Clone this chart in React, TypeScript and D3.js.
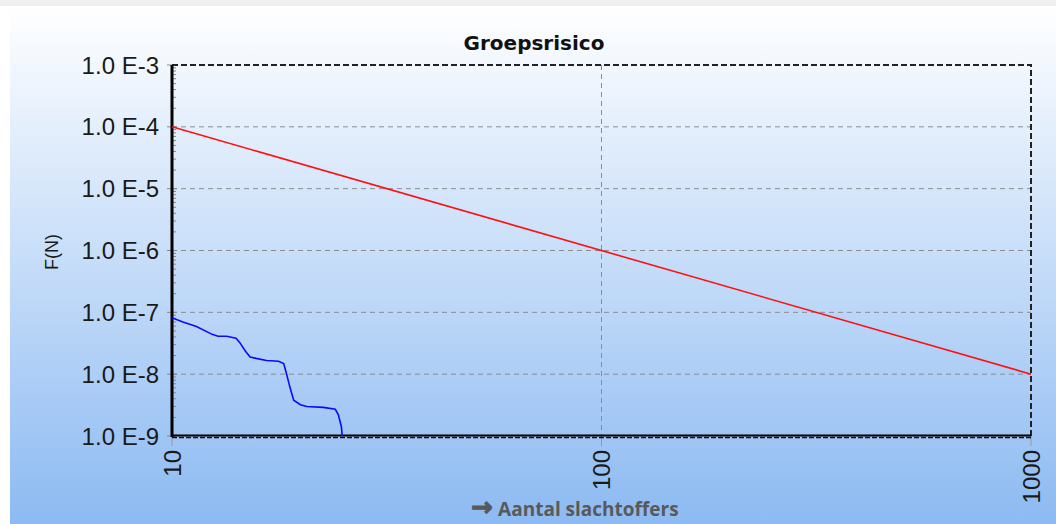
import { useEffect, useRef } from "react";
import * as d3 from "d3";

const xTicks = [10, 100, 1000];
const yTicks = [1e-3, 1e-4, 1e-5, 1e-6, 1e-7, 1e-8, 1e-9];
const yTickLabels = ["1.0 E-3", "1.0 E-4", "1.0 E-5", "1.0 E-6", "1.0 E-7", "1.0 E-8", "1.0 E-9"];

// oriëntatiewaarde (rood)
const normN = [10, 1000];
const normF = [1e-4, 1e-8];

// berekend groepsrisico (blauw)
const frN = [10, 10.6, 11.4, 12.4, 12.8, 13.4, 14.1, 14.4, 14.8, 15.2, 15.7, 16.6, 17.7, 18.2, 18.5, 18.8, 19.2, 19.9, 20.6, 22.5, 24.0, 24.4, 24.8, 24.9];
const frF = [8.2e-8, 7.0e-8, 5.9e-8, 4.4e-8, 4.1e-8, 4.1e-8, 3.8e-8, 3.2e-8, 2.4e-8, 1.9e-8, 1.8e-8, 1.66e-8, 1.62e-8, 1.48e-8, 9.8e-9, 6.3e-9, 3.8e-9, 3.2e-9, 3.0e-9, 2.9e-9, 2.7e-9, 2.2e-9, 1.4e-9, 1.0e-9];

function App() {
  const ref = useRef<HTMLDivElement>(null);
  const width = 1056;
  const height = 524;
  const left = 172;
  const right = 1031;
  const top = 65;
  const bottom = 436;

  useEffect(() => {
    d3.select(ref.current).selectAll("*").remove();
    const svg = d3
      .select(ref.current)
      .append("svg")
      .attr("width", width)
      .attr("height", height)
      .style("position", "absolute")
      .style("left", "0px")
      .style("top", "0px");

    const grad = svg
      .append("defs")
      .append("linearGradient")
      .attr("id", "bg")
      .attr("x1", 0)
      .attr("y1", 0)
      .attr("x2", 0)
      .attr("y2", 1);
    grad.append("stop").attr("offset", "0%").attr("stop-color", "#ffffff");
    grad.append("stop").attr("offset", "100%").attr("stop-color", "#8cbaf2");

    svg.append("rect").attr("width", width).attr("height", height).attr("fill", "#ffffff");
    svg.append("rect").attr("width", width).attr("height", 6).attr("fill", "#f0f0f0");
    svg
      .append("rect")
      .attr("x", 10)
      .attr("y", 6)
      .attr("width", width - 10)
      .attr("height", height - 6)
      .attr("fill", "url(#bg)");

    const x = d3.scaleLog().domain([10, 1000]).range([left, right]);
    const y = d3.scaleLog().domain([1e-9, 1e-3]).range([bottom, top]);

    // grid
    svg
      .selectAll(".hgrid")
      .data(yTicks.slice(1, -1))
      .enter()
      .append("line")
      .attr("x1", left)
      .attr("x2", right)
      .attr("y1", (d) => y(d))
      .attr("y2", (d) => y(d))
      .attr("stroke", "#8c8c8c")
      .attr("stroke-dasharray", "5,4");
    svg
      .append("line")
      .attr("x1", x(100))
      .attr("x2", x(100))
      .attr("y1", top)
      .attr("y2", bottom)
      .attr("stroke", "#8c8c8c")
      .attr("stroke-dasharray", "5,4");

    // minor ticks y
    const minors: number[] = [];
    for (let e = -9; e < -3; e++) {
      for (let m = 2; m <= 9; m++) minors.push(m * Math.pow(10, e));
    }
    svg
      .selectAll(".minor")
      .data(minors)
      .enter()
      .append("line")
      .attr("x1", left)
      .attr("x2", left + 4)
      .attr("y1", (d) => y(d))
      .attr("y2", (d) => y(d))
      .attr("stroke", "#888");

    // major ticks y
    svg
      .selectAll(".ytick")
      .data(yTicks)
      .enter()
      .append("line")
      .attr("x1", left - 5)
      .attr("x2", left + 5)
      .attr("y1", (d) => y(d))
      .attr("y2", (d) => y(d))
      .attr("stroke", "#888");

    // ticks x
    svg
      .selectAll(".xtick")
      .data(xTicks)
      .enter()
      .append("line")
      .attr("x1", (d) => x(d))
      .attr("x2", (d) => x(d))
      .attr("y1", bottom)
      .attr("y2", bottom + 10)
      .attr("stroke", "#999");

    // frame
    svg
      .append("path")
      .attr("d", `M${left},${top}H${right}V${bottom}`)
      .attr("fill", "none")
      .attr("stroke", "#222")
      .attr("stroke-width", 2)
      .attr("stroke-dasharray", "6,3");
    svg
      .append("line")
      .attr("x1", left)
      .attr("x2", right)
      .attr("y1", bottom - 0.5)
      .attr("y2", bottom - 0.5)
      .attr("stroke", "#000")
      .attr("stroke-width", 2);
    svg
      .append("line")
      .attr("x1", left)
      .attr("x2", right)
      .attr("y1", bottom + 1.5)
      .attr("y2", bottom + 1.5)
      .attr("stroke", "#111")
      .attr("stroke-width", 1.5)
      .attr("stroke-dasharray", "5,2");
    svg
      .append("line")
      .attr("x1", left)
      .attr("x2", left)
      .attr("y1", top)
      .attr("y2", bottom + 1)
      .attr("stroke", "#000")
      .attr("stroke-width", 3);

    const pathGen = d3
      .line<[number, number]>()
      .x((d) => x(d[0]))
      .y((d) => y(d[1]));

    // lijnen
    svg
      .append("path")
      .datum(normN.map((n, i) => [n, normF[i]] as [number, number]))
      .attr("d", pathGen)
      .attr("fill", "none")
      .attr("stroke", "#ff1010")
      .attr("stroke-width", 1.6);
    svg
      .append("path")
      .datum(frN.map((n, i) => [n, frF[i]] as [number, number]))
      .attr("d", pathGen)
      .attr("fill", "none")
      .attr("stroke", "#0a0aff")
      .attr("stroke-width", 1.6);

    // labels
    svg
      .selectAll(".ylab")
      .data(yTicks)
      .enter()
      .append("text")
      .attr("x", left - 13)
      .attr("y", (d) => y(d))
      .attr("dy", "0.36em")
      .attr("text-anchor", "end")
      .attr("font-family", "Liberation Sans, Arial, sans-serif")
      .attr("font-size", 24)
      .attr("fill", "#1a1a1a")
      .text((_, i) => yTickLabels[i]);

    svg
      .selectAll(".xlab")
      .data(xTicks)
      .enter()
      .append("text")
      .attr("transform", (d) => `translate(${x(d)},${bottom + 14}) rotate(-90)`)
      .attr("dy", "0.36em")
      .attr("text-anchor", "end")
      .attr("font-family", "Liberation Sans, Arial, sans-serif")
      .attr("font-size", 24)
      .attr("fill", "#1a1a1a")
      .text((d) => String(d));

    svg
      .append("text")
      .attr("transform", `translate(58,252) rotate(-90)`)
      .attr("text-anchor", "middle")
      .attr("font-family", "Liberation Sans, Arial, sans-serif")
      .attr("font-size", 18)
      .attr("fill", "#1a1a1a")
      .text("F(N)");

    svg
      .append("text")
      .attr("x", 534)
      .attr("y", 50)
      .attr("text-anchor", "middle")
      .attr("font-family", "DejaVu Sans, sans-serif")
      .attr("font-weight", "bold")
      .attr("font-size", 20)
      .attr("fill", "#111")
      .text("Groepsrisico");

    const xt = svg
      .append("text")
      .attr("x", 575)
      .attr("y", 516)
      .attr("text-anchor", "middle")
      .attr("font-family", "Open Sans, sans-serif")
      .attr("font-weight", "bold")
      .attr("font-size", 19)
      .attr("fill", "#595959");
    xt.append("tspan")
      .attr("font-family", "DejaVu Sans, sans-serif")
      .attr("font-size", 26)
      .attr("stroke", "#595959")
      .attr("stroke-width", 1)
      .text("\u2192");
    xt.append("tspan").text(" Aantal slachtoffers");
  }, []);

  return <div ref={ref}></div>;
}

export default App;
